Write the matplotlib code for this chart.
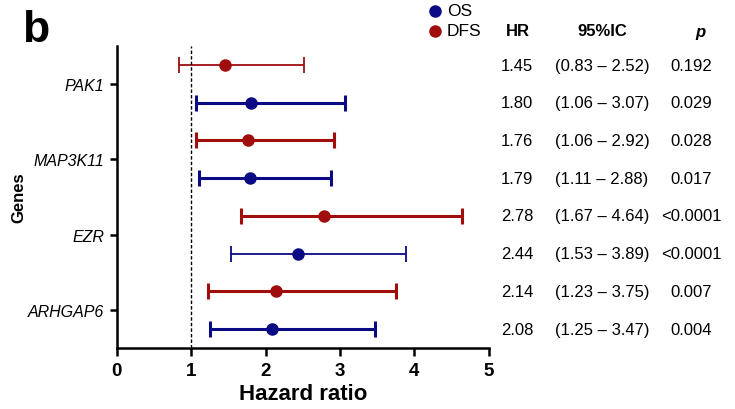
import matplotlib
matplotlib.use('Agg')
import matplotlib.pyplot as plt

plt.rcParams['font.family'] = ['Liberation Sans', 'DejaVu Sans']

genes = ['PAK1', 'MAP3K11', 'EZR', 'ARHGAP6']
# rows top to bottom: DFS then OS for each gene
groups = ['DFS', 'OS', 'DFS', 'OS', 'DFS', 'OS', 'DFS', 'OS']
hr = [1.45, 1.80, 1.76, 1.79, 2.78, 2.44, 2.14, 2.08]
lo = [0.83, 1.06, 1.06, 1.11, 1.67, 1.53, 1.23, 1.25]
hi = [2.52, 3.07, 2.92, 2.88, 4.64, 3.89, 3.75, 3.47]
ci_text = ['(0.83 – 2.52)', '(1.06 – 3.07)', '(1.06 – 2.92)', '(1.11 – 2.88)',
           '(1.67 – 4.64)', '(1.53 – 3.89)', '(1.23 – 3.75)', '(1.25 – 3.47)']
p_text = ['0.192', '0.029', '0.028', '0.017', '<0.0001', '<0.0001', '0.007', '0.004']
widths = [1.3, 2.2, 2.2, 2.2, 2.2, 1.3, 2.2, 2.2]

colors = {'OS': '#0a0a84', 'DFS': '#a00d0d'}

fig = plt.figure(figsize=(7.35, 4.10), dpi=100)
ax = fig.add_axes([0.159, 0.149, 0.506, 0.736])

for i in range(len(hr)):
    c = colors[groups[i]]
    ax.errorbar(hr[i], i, xerr=[[hr[i] - lo[i]], [hi[i] - hr[i]]], fmt='o',
                color=c, ms=8, elinewidth=widths[i], capsize=6,
                capthick=widths[i])

ax.axvline(1, color='black', lw=1.0, ls=(0, (2.5, 1.5)))

ax.set_xlim(0, 5)
ax.set_ylim(7.5, -0.5)
ax.set_xticks(range(6))
ax.set_xticklabels([str(v) for v in range(6)], fontsize=13.5, fontweight='bold')
ax.set_yticks([0.5, 2.5, 4.5, 6.5])
ax.set_yticklabels(genes, fontsize=11.5, fontstyle='italic')
ax.spines['top'].set_visible(False)
ax.spines['right'].set_visible(False)
ax.spines['left'].set_linewidth(1.8)
ax.spines['bottom'].set_linewidth(1.8)
ax.tick_params(axis='x', length=6, width=1.8, pad=4)
ax.tick_params(axis='y', length=5, width=1.8, pad=4)
ax.set_xlabel('Hazard ratio', fontsize=16, fontweight='bold', labelpad=3)
ax.set_ylabel('Genes', fontsize=12, fontweight='bold', labelpad=1)

# table columns to the right of the plot
for i in range(len(hr)):
    ax.annotate('%.2f' % hr[i], (517 / 735, i), xycoords=('figure fraction', 'data'),
                ha='center', va='center', fontsize=12, annotation_clip=False)
    ax.annotate(ci_text[i], (602 / 735, i), xycoords=('figure fraction', 'data'),
                ha='center', va='center', fontsize=12, annotation_clip=False)
    ax.annotate(p_text[i], (691 / 735, i), xycoords=('figure fraction', 'data'),
                ha='center', va='center', fontsize=12, annotation_clip=False)

fig.text(518 / 735, 1 - 32 / 410, 'HR', fontsize=12, fontweight='bold', ha='center', va='center')
fig.text(602 / 735, 1 - 32 / 410, '95%IC', fontsize=12, fontweight='bold', ha='center', va='center')
fig.text(700 / 735, 1 - 32 / 410, 'p', fontsize=12, fontweight='bold', fontstyle='italic',
         ha='center', va='center')

# legend
for lab, yy in [('OS', 12), ('DFS', 32)]:
    fig.add_artist(plt.Line2D([435 / 735], [1 - yy / 410], marker='o', ms=8, lw=0,
                              color=colors[lab], transform=fig.transFigure))
    fig.text(447 / 735, 1 - yy / 410, lab, fontsize=12.5, ha='left', va='center')

fig.text(22 / 735, 1 - 31 / 410, 'b', fontsize=32, fontweight='bold', ha='left', va='center')

fig.savefig('out.png', dpi=100)
